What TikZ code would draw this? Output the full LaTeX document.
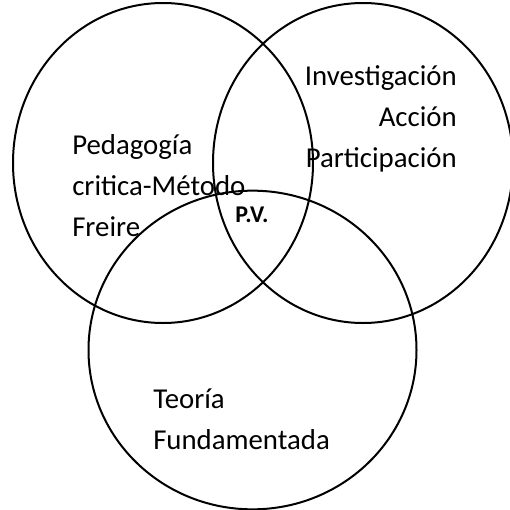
\documentclass[tikz,border=0pt]{standalone}
\usepackage{fontspec}
\setmainfont{Carlito}
\usetikzlibrary{shapes.geometric}
\tikzset{%
  % Specifications for style of nodes:
     circ/.style = {ellipse, draw=black, line width=1.5pt, inner sep=0pt},
    leftCircle/.style = {circ, minimum width=225pt, minimum height=240pt},
    rightCircle/.style = {circ, minimum width=225pt, minimum height=240pt},
    bottomCircle/.style = {circ, minimum width=246pt, minimum height=239pt},
    circText/.style = {inner sep=0pt, font=\fontsize{21.6}{30.75}\selectfont},
    centerText/.style = {inner sep=0pt, font=\fontsize{18}{20}\selectfont\bfseries},
}

\begin{document}
\begin{tikzpicture}[x=0.75pt, y=-0.75pt]
  \useasboundingbox (0,0) rectangle (510,510);
  % Specification of circles (position, etc.)
  \node (circPedagogia)     [leftCircle]   at (163,163) {};
  \node (circInvestigacion) [rightCircle]  at (363,163) {};
  \node (circTeoria)        [bottomCircle] at (252.5,350) {};

  % Specification of texts inside the circles
  % (base anchor = baseline of the last line)
  \node (pedagogia)     [circText, align=left, anchor=base west] at (72,236)
                        {Pedagogía\\critica-Método\\Freire};
  \node (investigacion) [circText, align=right, anchor=base east] at (457,167)
                        {Investigación\\Acción\\Participación};
  \node (teoria)        [circText, align=left, anchor=base west] at (153,449)
                        {Teoría\\Fundamentada};
  \node (pv)            [centerText, anchor=base west] at (235,222) {P.V.};

\end{tikzpicture}
\end{document}
